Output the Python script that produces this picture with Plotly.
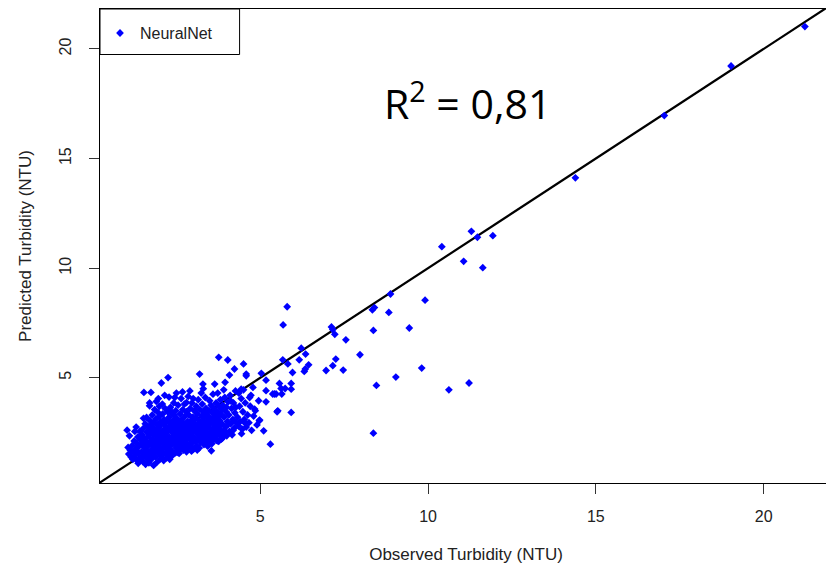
import plotly.graph_objects as go

# ---------------- data ----------------
# dense cluster, listed column by column (observed, predicted)
cluster_obs = [
    1.08, 1.12, 1.15, 1.18, 1.22, 1.24, 1.10, 1.20,
    1.27, 1.29, 1.31, 1.33, 1.35, 1.37, 1.39, 1.41, 1.43, 1.44, 1.30, 1.36,
    1.46, 1.47, 1.48, 1.50, 1.51, 1.53, 1.54, 1.56, 1.57, 1.58, 1.60, 1.61, 1.62, 1.63, 1.64, 1.52, 1.59, 1.49,
    1.66, 1.67, 1.68, 1.69, 1.70, 1.71, 1.72, 1.73, 1.74, 1.75, 1.76, 1.77, 1.78, 1.79, 1.80, 1.81, 1.82, 1.83, 1.84, 1.85, 1.70, 1.74, 1.78, 1.82,
    1.86, 1.87, 1.88, 1.89, 1.90, 1.91, 1.92, 1.93, 1.94, 1.95, 1.96, 1.97, 1.98, 1.99, 2.00, 2.01, 2.02, 2.03, 2.04, 2.05, 1.90, 1.96, 2.00, 1.94, 2.02,
    2.06, 2.07, 2.08, 2.09, 2.10, 2.11, 2.12, 2.13, 2.14, 2.15, 2.16, 2.17, 2.18, 2.19, 2.20, 2.21, 2.22, 2.23, 2.24, 2.25, 2.08, 2.15, 2.22, 2.12, 2.18, 2.24,
    2.26, 2.27, 2.28, 2.29, 2.30, 2.31, 2.32, 2.33, 2.34, 2.35, 2.36, 2.37, 2.38, 2.39, 2.40, 2.41, 2.42, 2.43, 2.44, 2.45, 2.28, 2.33, 2.38, 2.43, 2.30,
    2.46, 2.47, 2.48, 2.49, 2.50, 2.51, 2.52, 2.53, 2.54, 2.55, 2.56, 2.57, 2.58, 2.59, 2.60, 2.61, 2.62, 2.63, 2.64, 2.65, 2.50, 2.58, 2.52, 2.60, 2.56,
    2.66, 2.67, 2.68, 2.69, 2.70, 2.71, 2.72, 2.73, 2.74, 2.75, 2.76, 2.77, 2.78, 2.79, 2.80, 2.81, 2.82, 2.83, 2.84, 2.85, 2.70, 2.76, 2.82, 2.68, 2.80,
    2.86, 2.87, 2.88, 2.89, 2.90, 2.91, 2.92, 2.93, 2.94, 2.95, 2.96, 2.97, 2.98, 2.99, 3.00, 3.01, 3.02, 3.03, 3.04, 3.05, 2.90, 2.95, 3.00, 2.88,
    3.06, 3.07, 3.08, 3.09, 3.10, 3.11, 3.12, 3.13, 3.14, 3.15, 3.16, 3.17, 3.18, 3.19, 3.20, 3.21, 3.22, 3.23, 3.24, 3.25, 3.12, 3.20,
    3.26, 3.27, 3.28, 3.29, 3.30, 3.31, 3.32, 3.33, 3.34, 3.35, 3.36, 3.37, 3.38, 3.39, 3.40, 3.41, 3.42, 3.43, 3.44, 3.45, 3.30, 3.40,
    3.46, 3.47, 3.48, 3.49, 3.50, 3.51, 3.52, 3.53, 3.54, 3.55, 3.56, 3.57, 3.58, 3.59, 3.60, 3.61, 3.62, 3.63, 3.64, 3.65,
    3.66, 3.67, 3.68, 3.69, 3.70, 3.71, 3.72, 3.73, 3.74, 3.75, 3.76, 3.77, 3.78, 3.79, 3.80, 3.81, 3.82, 3.83, 3.84, 3.85,
    3.86, 3.88, 3.90, 3.92, 3.94, 3.96, 3.98, 4.00, 4.02, 4.04, 3.87, 3.93, 3.99, 4.03, 3.91,
    4.06, 4.08, 4.10, 4.12, 4.14, 4.16, 4.18, 4.20, 4.22, 4.24, 4.26, 4.28, 4.11, 4.19, 4.27,
    4.32, 4.35, 4.38, 4.40, 4.43, 4.46, 4.48, 4.52, 4.55, 4.58, 4.36, 4.50, 4.44,
    4.62, 4.66, 4.70, 4.74, 4.80, 4.85, 4.90, 4.95, 4.72,
]
cluster_pred = [
    1.52, 1.71, 1.38, 1.90, 1.60, 2.12, 2.35, 1.28,
    1.45, 1.75, 2.02, 1.22, 2.30, 1.58, 1.88, 2.55, 1.35, 2.15, 2.75, 1.10,
    1.62, 1.95, 2.40, 1.18, 2.68, 1.42, 2.20, 1.80, 2.90, 1.05, 2.05, 1.55, 2.52, 1.30, 2.30, 3.15, 1.70, 2.12,
    1.90, 2.75, 1.12, 2.38, 1.48, 3.05, 2.10, 1.68, 2.58, 1.28, 2.88, 1.95, 3.30, 2.22, 1.58, 2.70, 1.00, 2.45, 1.82, 3.55, 3.85, 4.33, 1.38, 2.95,
    2.05, 1.40, 2.62, 3.12, 1.72, 2.35, 1.15, 2.85, 1.95, 3.42, 2.18, 1.55, 2.72, 3.70, 1.85, 2.48, 1.30, 3.00, 2.25, 1.62, 3.92, 4.05, 3.25, 2.52, 2.05,
    2.90, 1.45, 2.15, 3.35, 1.78, 2.60, 1.22, 3.10, 2.38, 1.95, 3.60, 2.80, 1.58, 2.20, 3.00, 1.35, 2.52, 1.88, 3.45, 2.05, 3.80, 4.20, 2.70, 2.00, 2.45, 1.70,
    2.65, 1.50, 3.20, 2.30, 1.75, 2.95, 3.65, 2.10, 1.40, 2.55, 3.40, 1.95, 2.78, 1.62, 3.05, 2.35, 3.85, 2.00, 2.62, 1.55, 4.12, 2.85, 2.18, 3.30, 1.28,
    2.90, 2.20, 3.50, 1.80, 2.48, 3.15, 1.60, 2.72, 2.05, 3.75, 2.35, 1.95, 3.00, 2.60, 1.72, 3.35, 2.15, 2.85, 4.05, 2.45, 4.30, 1.55, 2.30, 2.00, 2.75,
    3.10, 1.85, 2.60, 3.55, 2.25, 1.70, 2.92, 2.05, 3.80, 2.45, 3.25, 1.90, 2.75, 2.15, 3.45, 2.55, 1.78, 3.00, 2.35, 4.15, 2.80, 2.00, 2.88, 4.35, 1.62,
    2.65, 3.30, 1.95, 2.85, 2.20, 3.60, 2.50, 1.82, 3.05, 2.35, 3.85, 2.70, 2.05, 3.20, 2.55, 1.75, 2.95, 3.50, 2.25, 2.80, 4.40, 1.65, 4.05, 2.45,
    3.15, 2.10, 2.65, 3.70, 1.90, 2.45, 3.35, 2.85, 2.20, 4.00, 2.60, 3.05, 1.80, 2.40, 3.55, 2.95, 2.05, 2.75, 4.30, 3.25, 1.70, 2.25,
    2.55, 3.80, 2.15, 3.00, 2.40, 3.45, 1.95, 2.80, 3.20, 2.30, 4.10, 2.65, 3.60, 2.05, 2.95, 3.30, 2.50, 1.88, 3.05, 2.25, 4.50, 2.75,
    2.85, 3.50, 2.40, 3.95, 2.10, 3.15, 2.65, 3.75, 2.30, 3.00, 2.00, 3.40, 2.55, 4.25, 2.90, 2.20, 3.60, 2.75, 3.25, 2.45,
    3.10, 2.30, 3.85, 2.70, 2.15, 3.45, 2.95, 4.30, 2.50, 3.25, 2.10, 3.70, 2.80, 3.05, 2.40, 4.00, 3.35, 2.60, 2.20, 3.55,
    2.90, 3.75, 2.50, 3.20, 4.10, 2.75, 3.45, 2.35, 3.00, 3.90, 2.25, 2.60, 3.65, 2.85, 4.45,
    3.30, 2.55, 4.20, 2.90, 3.60, 2.40, 3.10, 3.85, 2.70, 3.40, 4.40, 2.95, 3.95, 2.60, 3.65,
    3.20, 2.80, 3.70, 3.00, 4.05, 2.65, 3.45, 3.10, 3.85, 2.75, 4.30, 4.45, 2.45,
    3.30, 2.95, 3.70, 2.60, 3.25, 3.50, 2.85, 3.95, 4.20,
]

# scattered points outside the dense cluster
spread_obs = [
    21.23, 19.03, 17.04, 14.39,
    11.29, 11.47, 11.93, 10.41, 11.06, 11.63, 9.91, 9.81, 11.22, 10.62,
    8.88, 8.40, 8.34, 8.83, 9.44, 7.12, 7.16, 7.22, 8.37, 7.55, 7.97, 6.22, 6.35, 6.16, 7.25, 7.16,
    6.44, 6.34, 6.31, 6.96, 7.47, 9.04, 8.46, 5.96, 5.92, 5.92, 5.92, 8.37, 5.80, 5.68, 5.67, 5.82,
    4.50, 4.58, 4.98, 5.62, 5.47, 5.52, 5.17, 5.17, 5.37, 5.30, 5.10,
    3.76, 4.03, 4.23, 3.19, 4.08, 4.58, 5.03, 5.17, 5.57, 5.74, 5.42, 5.64, 5.50,
    3.54, 3.73, 3.34, 4.53, 4.97, 4.83, 4.68, 4.78, 4.43, 3.95, 3.64, 3.29,
    2.25, 2.05, 1.53, 1.03, 1.26, 1.06, 1.70, 1.61, 2.45, 2.80, 2.30,
]
spread_pred = [
    21.02, 19.22, 16.96, 14.12,
    11.68, 11.41, 11.48, 10.98, 10.31, 10.02, 8.54, 5.44, 4.76, 4.45,
    8.82, 8.20, 8.10, 7.98, 7.27, 7.32, 7.20, 6.98, 7.16, 6.73, 6.05, 6.35, 6.08, 5.82, 5.85, 5.55,
    5.59, 5.40, 5.29, 5.33, 5.35, 5.03, 4.65, 5.24, 4.74, 4.48, 3.42, 2.47, 8.24, 7.41, 5.82, 5.63,
    5.63, 5.09, 3.07, 4.51, 4.26, 3.49, 4.41, 3.90, 4.26, 1.97, 2.58,
    5.93, 5.81, 5.40, 5.17, 5.12, 5.17, 5.20, 4.89, 4.74, 4.51, 4.26, 4.26, 3.45,
    1.67, 2.12, 2.05, 2.96, 3.04, 3.57, 4.10, 4.56, 4.48, 4.79, 4.71, 4.71,
    5.01, 4.76, 4.33, 2.61, 2.55, 1.82, 3.72, 3.19, 4.10, 3.87, 3.57,
]

observed = cluster_obs + spread_obs
predicted = cluster_pred + spread_pred

series_name = "NeuralNet"
x_title = "Observed Turbidity (NTU)"
y_title = "Predicted Turbidity (NTU)"
r2_label = "R<sup>2</sup> = 0,81"
x_ticks = [5, 10, 15, 20]
y_ticks = [5, 10, 15, 20]


def r_range(vals):
    lo, hi = min(vals), max(vals)
    pad = 0.04 * (hi - lo)
    return [lo - pad, hi + pad]


x_range = r_range(observed)
y_range = r_range(predicted)

BLUE = "#0000FF"
FONT = "Liberation Sans, Arial, sans-serif"

fig = go.Figure()

# 1:1 reference line (abline(0, 1))
ref_ends = [min(x_range[0], y_range[0]) - 1, max(x_range[1], y_range[1]) + 1]
fig.add_trace(go.Scatter(
    x=ref_ends, y=ref_ends, mode="lines",
    line=dict(color="black", width=2.2), showlegend=False, hoverinfo="skip",
))

fig.add_trace(go.Scatter(
    x=observed, y=predicted, mode="markers", name=series_name,
    marker=dict(symbol="diamond", size=6, color=BLUE, line=dict(width=0)),
))

axis_common = dict(
    showgrid=False, zeroline=False, automargin=False,
    showline=True, mirror=True, linecolor="black", linewidth=1,
    ticks="outside", ticklen=10, tickwidth=1, tickcolor="#333333",
    tickfont=dict(family=FONT, size=16, color="#222222"),
)

fig.update_xaxes(
    range=x_range, tickvals=x_ticks, ticklabelstandoff=9,
    title=dict(text=x_title, font=dict(family=FONT, size=17, color="#222222"), standoff=23),
    **axis_common,
)
fig.update_yaxes(
    range=y_range, tickvals=y_ticks, tickangle=-90, ticklabelstandoff=12,
    title=dict(text=y_title, font=dict(family=FONT, size=17, color="#222222"), standoff=20),
    **axis_common,
)

# legend box (R-style framed legend)
fig.add_shape(type="rect", xref="paper", yref="paper",
              x0=0, x1=0.1907, y0=0.904, y1=1.0,
              line=dict(color="black", width=1), fillcolor="white", layer="below")

fig.add_annotation(
    text=r2_label, xref="paper", yref="paper", x=0.502, y=0.806,
    xanchor="center", yanchor="middle", showarrow=False,
    font=dict(family="Open Sans, sans-serif", size=41, color="black"),
)

# the page body adds an 8 px margin, so the figure is sized to fill the
# window from that offset
fig.update_layout(
    width=826, height=561,
    margin=dict(l=92, r=2, t=1, b=86),
    paper_bgcolor="white", plot_bgcolor="white",
    showlegend=True,
    legend=dict(x=0, y=0.985, xanchor="left", yanchor="top",
                bgcolor="rgba(0,0,0,0)", borderwidth=0,
                font=dict(family=FONT, size=16, color="#222222")),
    font=dict(family=FONT),
)

fig.write_html("out.html")
